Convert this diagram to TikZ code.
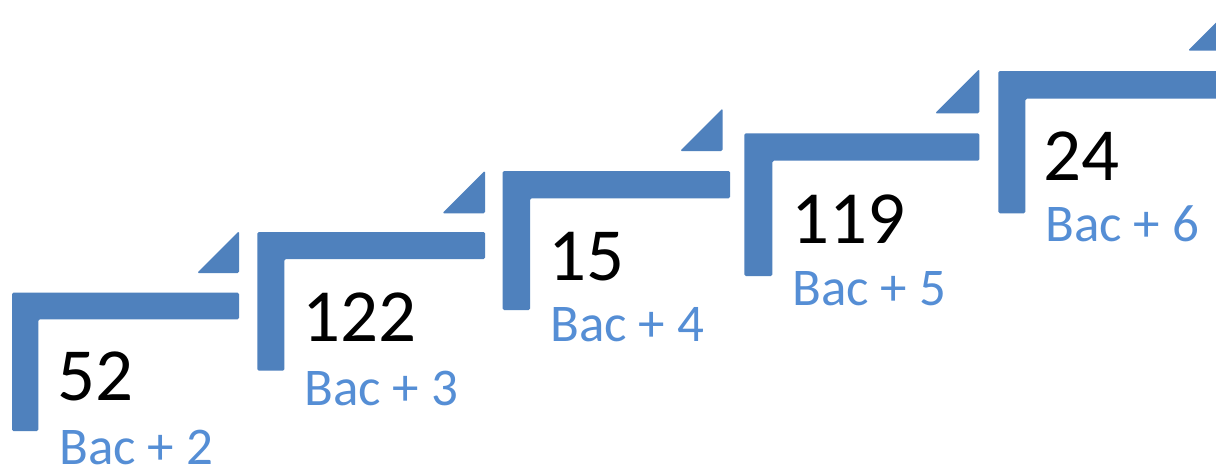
\documentclass[tikz,border=0pt]{standalone}
\usepackage{fontspec}
\setmainfont{Carlito}
\definecolor{barblue}{HTML}{4F81BD}
\definecolor{txtblue}{HTML}{558ED5}
\tikzset{
  stepfill/.style={fill=barblue, draw=none, rounded corners=1.5pt},
  numtxt/.style={anchor=base west, inner sep=0pt, text=black, font=\fontsize{75}{75}\selectfont},
  bactxt/.style={anchor=base west, inner sep=0pt, text=txtblue, font=\fontsize{53}{53}\selectfont}
}
\newcommand{\stairstep}[9]{%
  % #1 L, #2 T, #3 R, #4 B, #5 V, #6 Bot, #7 tri left x, #8 tri bottom y, #9 tri right x
  \fill[stepfill] (#1,#2) -- (#3,#2) -- (#3,#4) -- (#5,#4) -- (#5,#6) -- (#1,#6) -- cycle;
  \pgfmathsetmacro{\tritop}{#8-(#9-#7)}
  \fill[stepfill] (#7,#8) -- (#9,\tritop) -- (#9,#8) -- cycle;
}
\begin{document}
\begin{tikzpicture}[x=1pt,y=-1pt]
\useasboundingbox (0,0) rectangle (1216,469);
\fill[white] (0,0) rectangle (1216,469);
\clip (0,0) rectangle (1216,469);
\stairstep{12}{292.7}{239}{319.3}{38.3}{431}{197}{273}{239}
\stairstep{257.3}{232}{485}{259}{284.3}{370.7}{442.3}{213.3}{485}
\stairstep{502.7}{171}{730}{198.3}{530}{310}{680}{151}{722.7}
\stairstep{744.3}{133.3}{979.3}{160.7}{772.3}{276}{935}{113.3}{979.3}
\stairstep{998.3}{71}{1240}{98.7}{1025.3}{213.3}{1188}{50.7}{1230}
\node[numtxt] (n1) at (57,400) {52};
\node[bactxt] (b1) at (59,464) {Bac + 2};
\node[numtxt] (n2) at (302,341) {122};
\node[bactxt] (b2) at (304,405) {Bac + 3};
\node[numtxt] (n3) at (548,280) {15};
\node[bactxt] (b3) at (550,341.7) {Bac + 4};
\node[numtxt] (n4) at (791,243.3) {119};
\node[bactxt] (b4) at (792,305) {Bac + 5};
\node[numtxt] (n5) at (1043,180) {24};
\node[bactxt] (b5) at (1045,241.7) {Bac + 6};
\end{tikzpicture}
\end{document}
